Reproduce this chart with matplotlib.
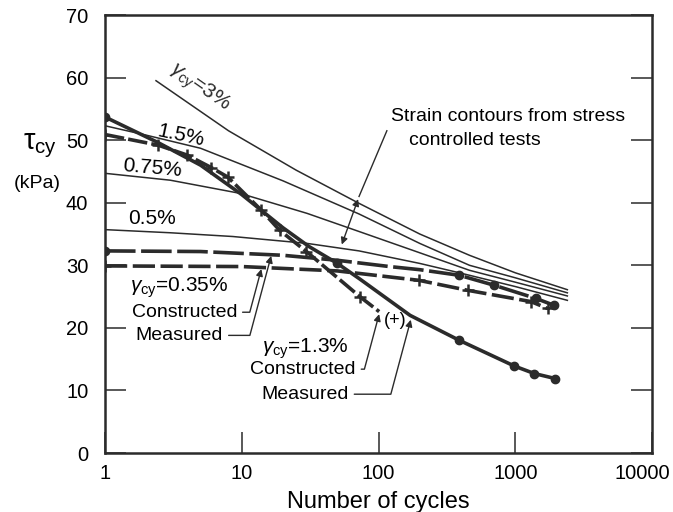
import matplotlib
matplotlib.use("Agg")
import matplotlib.pyplot as plt
from matplotlib.transforms import ScaledTranslation
import numpy as np

plt.rcParams['font.family'] = ['Liberation Sans', 'DejaVu Sans']
plt.rcParams['mathtext.fontset'] = 'custom'
plt.rcParams['mathtext.rm'] = 'Liberation Sans'
plt.rcParams['mathtext.it'] = 'Liberation Sans:italic'
plt.rcParams['lines.scale_dashes'] = False

INK = '#2b2b2b'

# strain contours from stress controlled tests
c3_N = [2.36, 8, 25, 72, 200, 462, 1000, 2400]
c3_t = [59.5, 51.5, 45.2, 39.9, 35.0, 31.6, 28.8, 26.1]
c15_N = [1, 2, 5, 20, 72, 200, 462, 1000, 2400]
c15_t = [52.3, 50.8, 48.7, 43.5, 38.2, 33.5, 30.0, 28.0, 25.6]
c075_N = [1, 3, 9.7, 30, 72, 200, 462, 1000, 2400]
c075_t = [44.7, 43.6, 41.5, 38.3, 35.4, 32.0, 29.2, 27.3, 25.1]
c05_N = [1, 3, 8.6, 30, 72, 200, 390, 1000, 2400]
c05_t = [35.7, 35.2, 34.6, 33.5, 32.3, 30.3, 28.8, 26.6, 24.4]

# gamma_cy = 0.35 %
m035_N = [1, 5, 20, 50, 120, 200, 390, 703, 1416, 1920]
m035_t = [32.3, 32.2, 31.6, 30.8, 29.8, 29.3, 28.4, 26.8, 24.7, 23.6]
m035_pts = [0, 6, 7, 8, 9]
k035_N = [1, 10, 50, 197, 449, 1300, 1722]
k035_t = [29.9, 29.8, 29.1, 27.6, 26.0, 24.2, 23.1]
k035_pts = [0, 3, 4, 5, 6]

# gamma_cy = 1.3 %
m13_N = [1, 2.4, 5, 10, 20, 31, 50, 73, 170, 390, 983, 1377, 1957]
m13_t = [53.7, 49.7, 46.0, 41.3, 36.0, 33.0, 30.3, 27.8, 22.0, 18.0, 13.9, 12.7, 11.9]
m13_pts = [0, 6, 9, 10, 11, 12]
k13_N = [1, 2.45, 4.0, 6.0, 7.9, 13.9, 18.9, 29.7, 72.9, 101]
k13_t = [50.9, 49.2, 47.6, 45.6, 44.1, 38.8, 35.6, 32.2, 25.0, 22.6]
k13_pts = [0, 1, 2, 3, 4, 5, 6, 7, 8]

fig = plt.figure(figsize=(6.73, 5.12), dpi=100)
ax = fig.add_axes([0.156, 0.1152, 0.813, 0.8555])

for N, t in [(c3_N, c3_t), (c15_N, c15_t), (c075_N, c075_t), (c05_N, c05_t)]:
    ax.plot(N, t, color=INK, lw=1.1)

ax.plot(m035_N, m035_t, color=INK, lw=2.6, dashes=(22, 4),
        marker='o', ms=6, markevery=m035_pts)
ax.plot(k035_N, k035_t, color=INK, lw=2.6, dashes=(16, 4),
        marker='+', ms=9, mew=1.8, markevery=k035_pts)
ax.plot(m13_N, m13_t, color=INK, lw=2.6,
        marker='o', ms=6, markevery=m13_pts)
ax.plot(k13_N, k13_t, color=INK, lw=2.6, dashes=(14, 3),
        marker='+', ms=9, mew=1.8, markevery=k13_pts)

ax.set_xscale('log')
ax.set_xlim(1, 10000)
ax.set_ylim(0, 70)
ax.set_xticks([1, 10, 100, 1000, 10000])
ax.set_xticklabels(['1', '10', '100', '1000', '10000'])
ax.minorticks_off()
ax.set_yticks(range(0, 80, 10))
ax.tick_params(direction='in', length=15, width=1.1, color=INK,
               labelsize=14.5, right=True, pad=8)
ax.tick_params(axis='y', pad=12)
for s in ax.spines.values():
    s.set_linewidth(1.8)
    s.set_color(INK)
# last x label sits a little left of its tick
last = ax.get_xticklabels()[-1]
last.set_transform(last.get_transform() + ScaledTranslation(-10 / 100, 0, fig.dpi_scale_trans))

ax.set_xlabel('Number of cycles', fontsize=17, labelpad=6)
fig.text(0.06, 0.715, r'τ$_{\mathrm{cy}}$', fontsize=21, ha='center', va='center')
fig.text(0.056, 0.642, '(kPa)', fontsize=14, ha='center', va='center')

# contour labels
ax.text(4.9, 58.3, r'$\gamma_{\mathrm{cy}}$=3%', fontsize=15, rotation=-35,
        ha='center', va='center', color=INK)
ax.text(3.6, 50.8, '1.5%', fontsize=15, rotation=-12, ha='center', va='center')
ax.text(2.2, 45.6, '0.75%', fontsize=15, rotation=-5, ha='center', va='center')
ax.text(2.2, 37.4, '0.5%', fontsize=15, ha='center', va='center')

ax.text(124, 53.7, 'Strain contours from stress', fontsize=14, ha='left', va='center')
ax.text(168, 49.9, 'controlled tests', fontsize=14, ha='left', va='center')
ax.annotate('', xy=(53, 32.9), xytext=(72, 41.0),
            arrowprops=dict(arrowstyle='<|-|>', color=INK, lw=1, mutation_scale=10))
ax.plot([72, 115], [41.0, 51.5], color=INK, lw=1)

arr = dict(arrowstyle='-|>', color=INK, lw=1, mutation_scale=10, shrinkA=2, shrinkB=0)

ax.text(3.5, 26.4, r'$\gamma_{\mathrm{cy}}$=0.35%', fontsize=15, ha='center', va='center')
ax.annotate('Constructed', xy=(13.9, 29.4), xytext=(3.8, 22.5), fontsize=14,
            ha='center', va='center',
            arrowprops=dict(arr, connectionstyle='angle,angleA=0,angleB=75,rad=0'))
ax.annotate('Measured', xy=(16.4, 31.5), xytext=(3.5, 18.8), fontsize=14,
            ha='center', va='center',
            arrowprops=dict(arr, connectionstyle='angle,angleA=0,angleB=75,rad=0'))

ax.text(29, 16.6, r'$\gamma_{\mathrm{cy}}$=1.3%', fontsize=15, ha='center', va='center')
ax.annotate('Constructed', xy=(101, 22.2), xytext=(28, 13.4), fontsize=14,
            ha='center', va='center',
            arrowprops=dict(arr, connectionstyle='angle,angleA=0,angleB=75,rad=0'))
ax.annotate('Measured', xy=(172, 21.3), xytext=(29, 9.4), fontsize=14,
            ha='center', va='center',
            arrowprops=dict(arr, connectionstyle='angle,angleA=0,angleB=75,rad=0'))
ax.text(133, 21.1, '(+)', fontsize=13, ha='center', va='center')

fig.savefig('out.png', dpi=100)
